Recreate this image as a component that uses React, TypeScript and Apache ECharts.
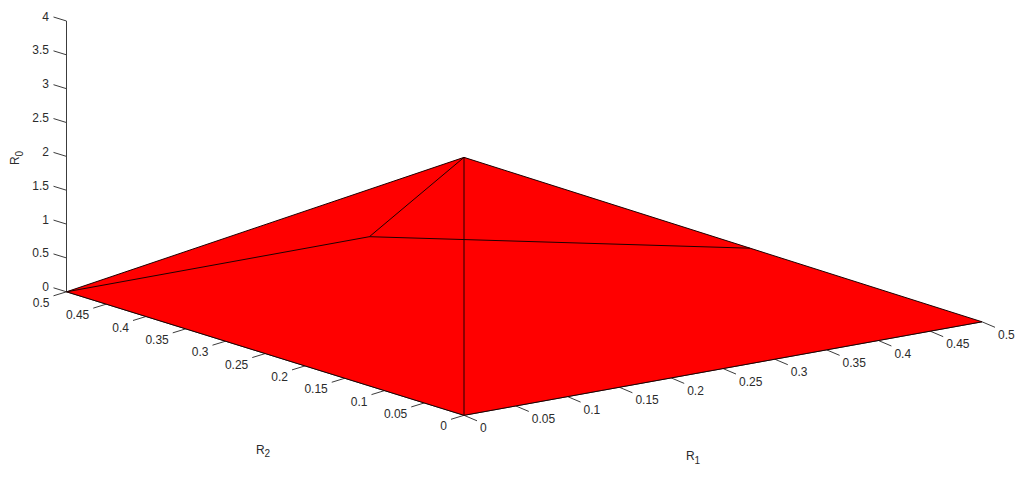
import React, { useEffect, useRef } from "react";
import * as echarts from "echarts";

// Tick values
const r1Ticks = [0, 0.05, 0.1, 0.15, 0.2, 0.25, 0.3, 0.35, 0.4, 0.45, 0.5];
const r2Ticks = [0, 0.05, 0.1, 0.15, 0.2, 0.25, 0.3, 0.35, 0.4, 0.45, 0.5];
const r0Ticks = [0, 0.5, 1, 1.5, 2, 2.5, 3, 3.5, 4];

// Surface vertices
const vertexR1 = [0, 0.5, 0, 0, 0.276, 0];
const vertexR2 = [0, 0, 0.5, 0, 0, 0.119];
const vertexR0 = [3.81, 0, 0, 0, 1.706, 2.204];
// facets and edges: indices into the vertex arrays
const surfaceOutline = [0, 1, 3, 2];
const surfaceEdges = [
  [0, 1],
  [1, 3],
  [3, 2],
  [2, 0],
  [0, 3],
  [2, 5],
  [5, 0],
  [5, 4],
];

const FONT = "12px 'Liberation Sans', Arial, sans-serif";
const TEXT = "#2b2b2b";
const AXIS = "#3c3c3c";

// Fixed oblique projection of the MATLAB-like 3D view onto the picture plane
const project = (r1: number, r2: number, r0: number): number[] => [
  464 + 1036 * r1 - 795 * r2,
  415.3 - 187 * r1 - 247 * r2 - 67.7 * r0,
];
const vertex = (i: number) => project(vertexR1[i], vertexR2[i], vertexR0[i]);

const line = (api: any, a: number[], b: number[], stroke: string, lineWidth = 1) => {
  const p = api.coord(a);
  const q = api.coord(b);
  return {
    type: "line",
    shape: { x1: p[0], y1: p[1], x2: q[0], y2: q[1] },
    style: { stroke, lineWidth, fill: null },
    silent: true,
  };
};

const label = (api: any, a: number[], dx: number, dy: number, text: string, align: string) => {
  const p = api.coord(a);
  return {
    type: "text",
    silent: true,
    style: {
      text,
      x: p[0] + dx,
      y: p[1] + dy,
      align,
      verticalAlign: "middle",
      font: FONT,
      fill: TEXT,
    },
  };
};

const subscript = (api: any, a: number[], name: string, sub: string, rotation = 0) => {
  const p = api.coord(a);
  return {
    type: "text",
    silent: true,
    x: p[0],
    y: p[1],
    rotation,
    style: {
      text: `{a|${name}}{b|${sub}}`,
      x: 0,
      y: 0,
      align: "center",
      verticalAlign: "middle",
      rich: {
        a: { font: FONT, fill: TEXT, fontSize: 12, fontFamily: "Liberation Sans" },
        b: {
          fill: TEXT,
          fontSize: 10,
          fontFamily: "Liberation Sans",
          padding: [8, 0, 0, 0],
        },
      },
    },
  };
};

const tickGroup = (api: any, ticks: number[], at: (v: number) => number[], tick: number[], dx: number, dy: number, align: string) => ({
  type: "group",
  children: ticks.flatMap((v) => {
    const a = at(v);
    return [
      line(api, a, [a[0] + tick[0], a[1] + tick[1]], AXIS),
      label(api, a, dx, dy, String(v), align),
    ];
  }),
});

const option: any = {
  animation: false,
  backgroundColor: "#ffffff",
  grid: { left: 0, right: 0, top: 0, bottom: 0 },
  xAxis: { type: "value", min: 0, max: 1024, show: false },
  yAxis: { type: "value", min: 0, max: 477, inverse: true, show: false },
  series: [
    {
      type: "custom",
      coordinateSystem: "cartesian2d",
      silent: true,
      clip: false,
      data: [[0, 0]],
      renderItem: (_p: any, api: any) => ({
        type: "group",
        children: [
          // axes
          line(api, project(0, 0.5, 0), project(0, 0.5, 4), AXIS),
          line(api, project(0, 0, 0), project(0, 0.5, 0), AXIS),
          line(api, project(0, 0, 0), project(0.5, 0, 0), AXIS),
          tickGroup(api, r0Ticks, (v) => project(0, 0.5, v), [-13, -4], -17.5, -4.5, "right"),
          tickGroup(api, r1Ticks, (v) => project(v, 0, 0), [13, 5.5], 16, 13, "left"),
          tickGroup(api, r2Ticks, (v) => project(0, v, 0), [-13, 4], -17, 11, "right"),
          // surface
          {
            type: "polygon",
            silent: true,
            shape: { points: surfaceOutline.map((i) => api.coord(vertex(i))) },
            style: { fill: "#ff0000", stroke: "none" },
          },
          ...surfaceEdges.map(([a, b]) => line(api, vertex(a), vertex(b), "#200000")),
          // axis names
          subscript(api, [15, 158], "R", "0", Math.PI / 2),
          subscript(api, [263, 449.5], "R", "2"),
          subscript(api, [693, 456], "R", "1"),
        ],
      }),
    },
  ],
};

export default function App() {
  const ref = useRef<HTMLDivElement>(null);
  useEffect(() => {
    document.body.style.margin = "0";
    const chart = echarts.init(ref.current!, undefined, { renderer: "svg" });
    chart.setOption(option);
    return () => chart.dispose();
  }, []);
  return <div ref={ref} style={{ width: 1024, height: 477 }} />;
}
